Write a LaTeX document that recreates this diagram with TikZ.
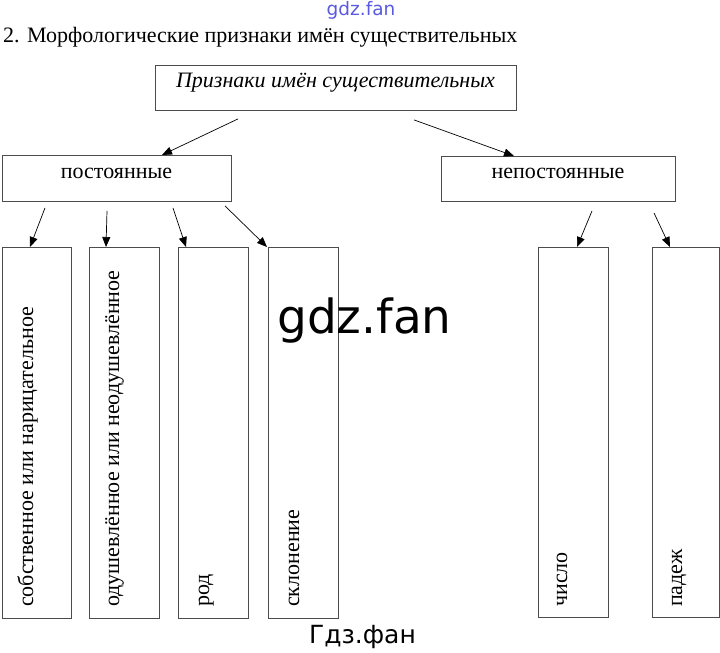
\documentclass[tikz,border=0pt]{standalone}
\usepackage{fontspec}
\setmainfont{Liberation Serif}
\newfontfamily\wmfont{DejaVu Sans}
\usetikzlibrary{arrows.meta}
\definecolor{lineg}{gray}{0.3}
\definecolor{wmblue}{RGB}{90,90,225}
\tikzset{
  box/.style={draw=lineg, line width=0.9pt, rectangle, inner sep=0pt, anchor=north west},
  txt/.style={inner sep=0pt, font=\fontsize{22}{26}\selectfont},
  vtxt/.style={txt, rotate=90, anchor=base west},
  arr/.style={draw=black, line width=0.7pt, -{Triangle[length=10pt,width=8pt]}},
}
\begin{document}
\begin{tikzpicture}[x=1pt,y=-1pt]
\useasboundingbox[fill=white] (0,0) rectangle (720,653);
% watermark
\node[inner sep=0pt, anchor=base, text=wmblue, font=\wmfont\fontsize{18.5}{22}\selectfont] (wm1) at (361,15) {gdz.fan};
% title
\node[txt, anchor=base west] (title) at (3,42) {2. Морфологические признаки имён существительных};
% boxes
\node[box, minimum width=361pt, minimum height=45pt] (top) at (155,65) {};
\node[txt, anchor=base, font=\fontsize{22}{26}\selectfont\itshape] (toptxt) at (335.5,87) {Признаки имён существительных};
\node[box, minimum width=229pt, minimum height=46pt] (post) at (2,155) {};
\node[txt, anchor=base] (posttxt) at (116.5,178) {постоянные};
\node[box, minimum width=234pt, minimum height=45pt] (nepost) at (441,156) {};
\node[txt, anchor=base] (neposttxt) at (558,178) {непостоянные};
\node[box, minimum width=69pt, minimum height=371pt] (b1) at (2,247) {};
\node[box, minimum width=70pt, minimum height=371pt] (b2) at (89,247) {};
\node[box, minimum width=70pt, minimum height=371pt] (b3) at (178,247) {};
\node[box, minimum width=70pt, minimum height=371pt] (b4) at (268,247) {};
\node[box, minimum width=70pt, minimum height=370pt] (b5) at (538,247) {};
\node[box, minimum width=67pt, minimum height=370pt] (b6) at (652,247) {};
\node[vtxt] (t1) at (33,607) {собственное или нарицательное};
\node[vtxt] (t2) at (119,607) {одушевлённое или неодушевлённое};
\node[vtxt] (t3) at (209,607) {род};
\node[vtxt] (t4) at (299,607) {склонение};
\node[vtxt] (t5) at (567,607) {число};
\node[vtxt] (t6) at (682,607) {падеж};
% arrows
\draw[arr] ([xshift=83pt,yshift=-8pt]top.south west) -- ([xshift=160pt]post.north west);
\draw[arr] ([xshift=259pt,yshift=-9pt]top.south west) -- ([xshift=73pt]nepost.north west);
\draw[arr] ([xshift=43pt,yshift=-6pt]post.south west) -- ([xshift=28pt]b1.north west);
\draw[arr] ([xshift=105pt,yshift=-9pt]post.south west) -- ([xshift=17pt]b2.north west);
\draw[arr] ([xshift=171pt,yshift=-6pt]post.south west) -- ([xshift=8pt]b3.north west);
\draw[arr] ([xshift=223pt,yshift=-4pt]post.south west) -- ([xshift=-1pt]b4.north west);
\draw[arr] ([xshift=151pt,yshift=-9pt]nepost.south west) -- ([xshift=39pt]b5.north west);
\draw[arr] ([xshift=213pt,yshift=-11pt]nepost.south west) -- ([xshift=18pt]b6.north west);
% watermarks
\node[inner sep=0pt, anchor=base, font=\wmfont\fontsize{47}{50}\selectfont] (wm2) at (364.5,333) {gdz.fan};
\node[inner sep=0pt, anchor=base, font=\wmfont\fontsize{25}{29}\selectfont] (wm3) at (362.5,643) {Гдз.фан};
\end{tikzpicture}
\end{document}
